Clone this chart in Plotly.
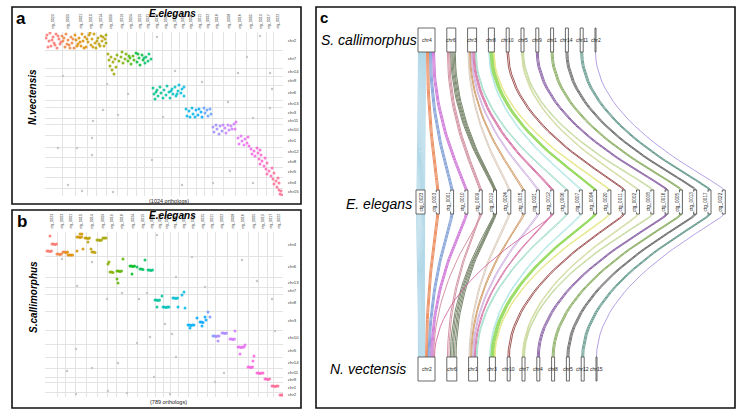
import math
from bisect import bisect_right
import plotly.graph_objects as go

W, H = 740, 416

# ---------------- panel a : E. elegans contigs vs N. vectensis chromosomes ----------------
a_ctg = ['ctg_0023', 'ctg_0003', 'ctg_0001', 'ctg_0010', 'ctg_0014', 'ctg_0009', 'ctg_0019', 'ctg_0024',
         'ctg_0015', 'ctg_0021', 'ctg_0012', 'ctg_0006', 'ctg_0007', 'ctg_0004', 'ctg_0020', 'ctg_0011',
         'ctg_0002', 'ctg_0018', 'ctg_0008', 'ctg_0016', 'ctg_0005', 'ctg_0013', 'ctg_0017', 'ctg_0022']
a_ctg_len = [17, 13, 12, 9, 10, 11, 10, 9, 8, 8, 10, 9, 8, 8, 9, 8, 8, 11, 12, 11, 11, 9, 7, 10]
a_chr = ['chr2', 'chr7', 'chr14', 'chr9', 'chr6', 'chr13', 'chr3', 'chr11', 'chr10', 'chr1', 'chr12',
         'chr8', 'chr5', 'chr4', 'chr15']
a_chr_len = [18, 18, 8, 9, 15, 7, 11, 6, 11, 12, 10, 10, 10, 11, 8]

a_pts = [
    # chr2 block
    (2, 3), (4, 9), (6, 14), (8, 5), (9, 11), (11, 2), (12, 16), (14, 7), (15, 12), (17, 4), (18, 9), (20, 15),
    (21, 2), (23, 8), (24, 13), (26, 5), (27, 11), (29, 16), (30, 3), (31, 8), (33, 12), (34, 6), (36, 14),
    (37, 2), (38, 9), (40, 5), (41, 15), (43, 10), (44, 3), (46, 13), (47, 7), (49, 2), (50, 11), (51, 16),
    (53, 6), (54, 12), (56, 4), (57, 9), (59, 14), (60, 7), (61, 3), (1, 6), (3, 15), (5, 1), (7, 8), (10, 13),
    (13, 4), (16, 10), (19, 6), (22, 12), (25, 16), (28, 7), (32, 14), (35, 10), (39, 16), (42, 7), (45, 1),
    (48, 15), (52, 9), (55, 14), (58, 5), (61, 11),
    # chr7 block
    (63, 22), (64, 28), (65, 34), (66, 25), (67, 38), (68, 30), (69, 42), (70, 27), (71, 35), (72, 23),
    (74, 29), (76, 25), (78, 31), (80, 27), (81, 22), (83, 29), (85, 26), (86, 32), (88, 24), (89, 28),
    (91, 21), (92, 30), (94, 26), (95, 33), (97, 23), (98, 28), (100, 31), (101, 25), (103, 29), (104, 22),
    (106, 27), (77, 20), (84, 24), (93, 22), (99, 26),
    # chr6 block
    (108, 56), (109, 62), (110, 67), (112, 58), (113, 64), (115, 55), (116, 61), (118, 66), (119, 58),
    (121, 63), (122, 54), (124, 60), (125, 66), (127, 57), (128, 62), (130, 55), (131, 64), (133, 59),
    (134, 53), (136, 61), (137, 57), (139, 64), (139, 55), (111, 60), (126, 59), (132, 62),
    # chr3 block
    (141, 77), (142, 84), (144, 79), (145, 85), (147, 76), (148, 82), (150, 85), (151, 78), (153, 83),
    (154, 77), (156, 80), (157, 85), (159, 76), (160, 81), (162, 78), (163, 84), (165, 77), (166, 82),
    # chr10 block
    (168, 95), (169, 100), (171, 93), (172, 97), (174, 102), (175, 94), (177, 99), (178, 93), (180, 96),
    (181, 101), (183, 93), (184, 98), (186, 94), (187, 97), (189, 92), (190, 97), (191, 90),
    # chr1 / chr12 / chr8 / chr5 / chr4 / chr15
    (193, 106), (194, 112), (196, 104), (197, 109), (199, 113), (200, 107), (202, 111), (203, 105), (204, 114),
    (206, 117), (207, 122), (209, 119), (210, 124), (212, 116), (213, 121), (215, 118), (216, 123),
    (214, 127), (215, 132), (217, 129), (219, 134), (220, 126), (222, 131),
    (221, 137), (222, 142), (224, 139), (226, 144), (227, 136), (229, 141),
    (228, 147), (229, 152), (231, 149), (232, 155), (233, 146), (234, 151),
    (234, 158), (235, 162), (236, 159), (237, 163),
]
a_grey = [(112, 5), (202, 25), (215, 4), (225, 41), (130, 39), (193, 41), (18, 44), (62, 52), (83, 62),
          (227, 57), (157, 50), (58, 78), (73, 83), (118, 85), (208, 86), (225, 76), (183, 70), (48, 89),
          (13, 116), (32, 116), (47, 106), (47, 123), (107, 128), (185, 139), (23, 153), (37, 159), (68, 160),
          (137, 153), (168, 151), (208, 151)]

# ---------------- panel b : E. elegans contigs vs S. callimorphus chromosomes ----------------
b_ctg = ['ctg_0023', 'ctg_0003', 'ctg_0001', 'ctg_0010', 'ctg_0014', 'ctg_0009', 'ctg_0019', 'ctg_0018',
         'ctg_0024', 'ctg_0015', 'ctg_0021', 'ctg_0012', 'ctg_0006', 'ctg_0007', 'ctg_0004', 'ctg_0020',
         'ctg_0025', 'ctg_0011', 'ctg_0002', 'ctg_0008', 'ctg_0016', 'ctg_0005', 'ctg_0013', 'ctg_0017',
         'ctg_0022']
b_ctg_len = [12, 8, 10, 11, 11, 10, 9, 11, 10, 10, 8, 8, 7, 8, 10, 9, 10, 8, 12, 10, 11, 10, 9, 6, 10]
b_chr = ['chr4', 'chr6', 'chr13', 'chr7', 'chr8', 'chr3', 'chr10', 'chr5', 'chr14', 'chr11', 'chr9', 'chr1', 'chr2']
b_chr_len = [24, 21, 10, 7, 17, 19, 14, 13, 11, 9, 5, 10, 5]

b_pts = [
    # chr4
    (2, 19), (3.5, 19), (5, 19.5), (6.5, 19), (7, 12), (8.5, 12), (10, 12.5), (11.5, 12), (5, 4),
    (12, 22), (13.5, 22), (15, 22.5), (16.5, 22), (18, 20), (19.5, 20), (21, 20.5), (22.5, 20),
    (23, 23), (24.5, 23), (26, 23), (27.5, 23), (32, 5), (33.5, 5), (35, 5.5), (36.5, 5), (35, 2), (37, 2),
    (40, 6), (41.5, 6), (43, 6.5), (44.5, 6), (43, 10), (47, 20), (48.5, 20), (50, 20.5),
    (52, 8), (53.5, 8), (55, 8.5), (56.5, 8), (58, 6), (59.5, 6), (61, 6), (38, 17), (32, 19), (46, 17),
    # chr6
    (63, 32), (64, 30), (65, 40), (66.5, 40), (68, 40.5), (72, 39), (73.5, 39), (75, 39.5), (76.5, 39),
    (72, 47), (73, 51), (78, 27), (85, 34), (86.5, 34), (88, 34.5), (89.5, 34), (87, 42), (92, 35),
    (95, 37), (96.5, 37), (98, 37.5), (100, 28), (103, 38), (104.5, 38), (106, 38.5), (107.5, 38),
    # chr8
    (110, 68), (111.5, 68), (113, 68.5), (114.5, 68), (112, 75), (118, 75), (119.5, 75), (121, 75.5),
    (122.5, 75), (124, 75), (117, 64), (128, 66), (129.5, 66), (131, 66.5), (132.5, 66), (133, 75),
    (137, 63), (140, 76), (139, 60),
    # chr3
    (143, 93), (144.5, 93), (146, 93.5), (147.5, 93), (149, 93), (145, 96), (152, 86), (155, 90),
    (156.5, 90), (158, 90.5), (157, 94), (160, 85), (163, 80), (165, 85), (161, 88),
    # chr10
    (168, 104), (169.5, 104), (171, 104.5), (172.5, 104), (174, 104), (173, 109), (177, 101), (178.5, 101),
    (180, 101.5), (181.5, 101), (185, 107), (186.5, 107), (188, 107.5), (189.5, 107), (190, 99),
    # chr5 / chr14 / chr11 / chr9 / chr1 / chr2
    (193, 115), (194.5, 115), (196, 115.5), (197.5, 115), (195, 122), (200, 113), (199, 115),
    (203, 135), (204.5, 135), (206, 135.5), (207.5, 135), (208, 129), (209, 124),
    (212, 141), (213.5, 141), (215, 141.5), (216.5, 141), (218, 141),
    (220, 147), (221.5, 147), (223, 147.5), (224.5, 147),
    (227, 154), (228.5, 154), (230, 154.5), (231.5, 154), (233, 154),
    (235, 163), (236.5, 163), (237.5, 163),
]
b_grey = [(17, 27), (47, 30), (32, 54), (77, 61), (102, 61), (62, 67), (94, 67), (147, 25), (197, 28),
          (212, 49), (160, 55), (131, 45), (227, 67), (112, 3), (120, 92), (127, 102), (105, 105), (92, 111),
          (31, 117), (73, 131), (131, 125), (179, 141), (109, 145), (22, 139), (47, 136), (170, 150),
          (230, 99), (63, 159), (82, 161), (125, 162), (31, 162)]

# ---------------- panel c : three-way synteny ----------------
top_chr = ['chr4', 'chr6', 'chr3', 'chr8', 'chr10', 'chr5', 'chr9', 'chr1', 'chr14', 'chr11', 'chr2']
top_size = [17, 9, 9, 6, 3, 3, 3, 3, 3, 3, 1]
mid_ctg = ['ctg_0023', 'ctg_0003', 'ctg_0001', 'ctg_0010', 'ctg_0009', 'ctg_0019', 'ctg_0024', 'ctg_0015',
           'ctg_0021', 'ctg_0012', 'ctg_0006', 'ctg_0007', 'ctg_0004', 'ctg_0020', 'ctg_0011', 'ctg_0002',
           'ctg_0008', 'ctg_0016', 'ctg_0005', 'ctg_0013', 'ctg_0017', 'ctg_0022']
mid_size = [9, 3, 3, 3, 3, 3, 3, 3, 3, 3, 3, 3, 3, 3, 3, 3, 3, 3, 3, 3, 3, 3]
mid_color = ['#9fcfe3', '#e8743b', '#6a8fd0', '#c65bd1', '#c97b8e', '#5b6b4a', '#d6c2b0', '#c98a4b',
             '#c7a3de', '#d05b97', '#8fd8c0', '#a0e3de', '#7ed33a', '#dfe36b', '#8b2d2d', '#c9d48e',
             '#b9d38a', '#7b4e9b', '#7aa34d', '#555555', '#4f8c7e', '#a58ce0']
bot_chr = ['chr2', 'chr6', 'chr1', 'chr3', 'chr10', 'chr7', 'chr4', 'chr8', 'chr5', 'chr12', 'chr15']
bot_size = [17, 10, 9, 6, 3, 3, 3, 3, 3, 3, 1]

link_ctg = ['ctg_0023', 'ctg_0003', 'ctg_0001', 'ctg_0010', 'ctg_0009', 'ctg_0009', 'ctg_0019', 'ctg_0024',
            'ctg_0015', 'ctg_0021', 'ctg_0012', 'ctg_0012', 'ctg_0006', 'ctg_0007', 'ctg_0004', 'ctg_0020',
            'ctg_0011', 'ctg_0002', 'ctg_0008', 'ctg_0016', 'ctg_0005', 'ctg_0013', 'ctg_0017', 'ctg_0022']
link_top = ['chr4', 'chr4', 'chr4', 'chr4', 'chr6', 'chr6', 'chr6', 'chr3', 'chr3', 'chr3', 'chr3', 'chr3',
            'chr3', 'chr8', 'chr8', 'chr8', 'chr10', 'chr5', 'chr5', 'chr9', 'chr1', 'chr14', 'chr11', 'chr2']
link_bot = ['chr2', 'chr2', 'chr2', 'chr2', 'chr6', 'chr2', 'chr6', 'chr1', 'chr1', 'chr1', 'chr1', 'chr2',
            'chr1', 'chr3', 'chr3', 'chr3', 'chr10', 'chr7', 'chr7', 'chr4', 'chr8', 'chr5', 'chr12', 'chr15']
link_n = [8, 3, 3, 3, 2, 1, 5, 2, 2, 2, 2, 1, 2, 2, 5, 2, 2, 2, 2, 3, 3, 3, 3, 1]


def hue_pal(n, c=100, l=65):
    # ggplot2 default hue palette (polar Luv)
    cols = []
    for i in range(n):
        h = math.radians(15 + 360 * i / n)
        u, v = c * math.cos(h), c * math.sin(h)
        Y = ((l + 16) / 116) ** 3
        up = u / (13 * l) + 0.1978398
        vp = v / (13 * l) + 0.4683363
        X = Y * 9 * up / (4 * vp)
        Z = Y * (12 - 3 * up - 20 * vp) / (4 * vp)
        lin = [3.240479 * X - 1.537150 * Y - 0.498535 * Z,
               -0.969256 * X + 1.875992 * Y + 0.041556 * Z,
               0.055648 * X - 0.204043 * Y + 1.057311 * Z]
        out = []
        for ch in lin:
            ch = 1.055 * ch ** (1 / 2.4) - 0.055 if ch > 0.0031308 else 12.92 * ch
            out.append(max(0, min(255, round(ch * 255))))
        cols.append('rgb(%d,%d,%d)' % tuple(out))
    return cols


def cum(lens):
    out = [0]
    for v in lens:
        out.append(out[-1] + v)
    return out


def dom_x(x0, x1):
    return [x0 / W, x1 / W]


def dom_y(y0, y1):
    return [1 - y1 / H, 1 - y0 / H]


fig = go.Figure()
annots = []
shapes = []
font = 'Liberation Sans'


def dotplot(n, pts, grey, ctg, ctg_len, chrs, chr_len, n_orth, y0, y1):
    xa = 'x' if n == 1 else 'x%d' % n
    ya = 'y' if n == 1 else 'y%d' % n
    xb, yb = cum(ctg_len), cum(chr_len)
    pal = hue_pal(len(ctg))
    fig.add_trace(go.Scatter(x=[p[0] for p in grey], y=[p[1] for p in grey], mode='markers',
                             marker=dict(size=2.5, color='#c8c8c8'), xaxis=xa, yaxis=ya, hoverinfo='skip'))
    cols = [pal[min(len(ctg) - 1, bisect_right(xb, p[0]) - 1)] for p in pts]
    fig.add_trace(go.Scatter(x=[p[0] for p in pts], y=[p[1] for p in pts], mode='markers',
                             marker=dict(size=3.0, color=cols, opacity=0.85), xaxis=xa, yaxis=ya))
    ax = dict(domain=dom_x(45, 283), range=[0, xb[-1]], tickvals=xb, showticklabels=False,
              showgrid=True, gridcolor='#e3e3e3', gridwidth=0.6, zeroline=False, ticks='',
              anchor=ya, fixedrange=True)
    ay = dict(domain=dom_y(y0, y1), range=[yb[-1], 0], tickvals=yb, showticklabels=False,
              showgrid=True, gridcolor='#e3e3e3', gridwidth=0.6, zeroline=False, ticks='',
              anchor=xa, fixedrange=True)
    key = '' if n == 1 else str(n)
    fig.update_layout(**{'xaxis' + key: ax, 'yaxis' + key: ay})
    for i, name in enumerate(ctg):
        annots.append(dict(x=(xb[i] + xb[i + 1]) / 2, y=1, xref=xa, yref=ya + ' domain', text=name,
                           textangle=-90, xanchor='center', yanchor='bottom', yshift=1, showarrow=False,
                           font=dict(size=3.6, color='#333', family=font)))
    for i, name in enumerate(chrs):
        annots.append(dict(x=1, y=(yb[i] + yb[i + 1]) / 2, xref=xa + ' domain', yref=ya, text=name,
                           xanchor='left', yanchor='middle', xshift=3, showarrow=False,
                           font=dict(size=4.2, color='#333', family=font)))
    annots.append(dict(x=0.52, y=0, xref=xa + ' domain', yref=ya + ' domain', text='(%d orthologs)' % n_orth,
                       xanchor='center', yanchor='top', showarrow=False,
                       font=dict(size=5.5, color='#222', family=font)))


dotplot(1, a_pts, a_grey, a_ctg, a_ctg_len, a_chr, a_chr_len, 1024, 32, 196)
dotplot(2, b_pts, b_grey, b_ctg, b_ctg_len, b_chr, b_chr_len, 789, 232, 397)


# panel c in pixel-like units
def row(sizes, x0, gap):
    spans = []
    x = x0
    for s in sizes:
        spans.append((x, x + s))
        x += s + gap
    return spans


top_span = row(top_size, 418, 11.8)
mid_span = row(mid_size, 416, 11.3)
bot_span = row(bot_size, 418, 11.8)
TOP = (28, 52)
MID = (190, 214)
BOT = (357, 381)

# one entry per drawn line, ordered by middle contig
lines = []
for k in range(len(link_ctg)):
    mi = mid_ctg.index(link_ctg[k])
    for _ in range(link_n[k]):
        lines.append((mi, top_chr.index(link_top[k]), bot_chr.index(link_bot[k])))
order = sorted(range(len(lines)), key=lambda j: (lines[j][0], lines[j][1], lines[j][2]))


def spread(key_idx, spans):
    pos = {}
    groups = {}
    for j in sorted(range(len(lines)), key=lambda j: (lines[j][0], lines[j][2] if key_idx == 2 else lines[j][1])):
        groups.setdefault(lines[j][key_idx], []).append(j)
    for g, js in groups.items():
        x0, x1 = spans[g]
        for r, j in enumerate(js):
            pos[j] = x0 + (r + 0.5) / len(js) * (x1 - x0)
    return pos


xt = spread(1, top_span)
xm = spread(0, mid_span)
xbt = spread(2, bot_span)


def bez(p0, p1, p2, p3, n=30):
    xs, ys = [], []
    for k in range(n + 1):
        t = k / n
        w = ((1 - t) ** 3, 3 * (1 - t) ** 2 * t, 3 * (1 - t) * t ** 2, t ** 3)
        xs.append(sum(wi * p[0] for wi, p in zip(w, (p0, p1, p2, p3))))
        ys.append(sum(wi * p[1] for wi, p in zip(w, (p0, p1, p2, p3))))
    return xs, ys


for mi in range(len(mid_ctg)):
    xs, ys = [], []
    for j in order:
        if lines[j][0] != mi:
            continue
        d1 = MID[0] - TOP[1]
        x1, y1 = bez((xt[j], TOP[1]), (xt[j], TOP[1] + 0.55 * d1), (xm[j], MID[0] - 0.05 * d1), (xm[j], MID[0]))
        d2 = BOT[0] - MID[1]
        x2, y2 = bez((xm[j], MID[1]), (xm[j], MID[1] + 0.05 * d2), (xbt[j], BOT[0] - 0.55 * d2), (xbt[j], BOT[0]))
        xs += x1 + x2 + [None]
        ys += y1 + y2 + [None]
    fig.add_trace(go.Scatter(x=xs, y=ys, mode='lines', line=dict(color=mid_color[mi], width=1.0),
                             opacity=0.8, xaxis='x3', yaxis='y3', hoverinfo='skip'))

fig.update_layout(
    xaxis3=dict(domain=dom_x(316, 735), range=[316, 735], visible=False, anchor='y3', fixedrange=True),
    yaxis3=dict(domain=dom_y(7, 408), range=[408, 7], visible=False, anchor='x3', fixedrange=True),
)

for spans, names, (y0, y1) in [(top_span, top_chr, TOP), (bot_span, bot_chr, BOT)]:
    for (x0, x1), nm in zip(spans, names):
        shapes.append(dict(type='rect', xref='x3', yref='y3', x0=x0, x1=x1, y0=y0, y1=y1,
                           line=dict(color='#444', width=0.8), fillcolor='white', layer='above'))
        annots.append(dict(x=(x0 + x1) / 2, y=(y0 + y1) / 2, xref='x3', yref='y3', text=nm, showarrow=False,
                           xanchor='center', yanchor='middle', font=dict(size=5, color='#222', family=font)))
for (x0, x1), nm in zip(mid_span, mid_ctg):
    shapes.append(dict(type='rect', xref='x3', yref='y3', x0=x0, x1=x1, y0=MID[0], y1=MID[1],
                       line=dict(color='#444', width=0.8), fillcolor='white', layer='above'))
    lx = (x0 + x1) / 2 if x1 - x0 > 5 else x0 - 2.6
    annots.append(dict(x=lx, y=(MID[0] + MID[1]) / 2, xref='x3', yref='y3', text=nm, textangle=-90,
                       xanchor='center', yanchor='middle', showarrow=False, bgcolor='white', borderpad=0,
                       font=dict(size=4.6, color='#222', family=font)))

for txt, x, y in [('S. callimorphus', 369, 40), ('E. elegans', 379, 204), ('N. vectensis', 368, 369)]:
    annots.append(dict(x=x, y=y, xref='x3', yref='y3', text='<i>%s</i>' % txt, showarrow=False,
                       xanchor='center', yanchor='middle', font=dict(size=14, color='black', family=font)))

# frames, panel letters, titles
for x0, y0, x1, y1 in [(12, 7, 301, 204), (12, 210, 301, 408), (316, 7, 735, 408)]:
    shapes.append(dict(type='rect', xref='paper', yref='paper', x0=x0 / W, x1=x1 / W, y0=1 - y1 / H,
                       y1=1 - y0 / H, line=dict(color='#111', width=1.6), fillcolor='rgba(0,0,0,0)'))
for txt, x, y, s in [('a', 21, 19, 17), ('b', 22, 221, 17), ('c', 324, 18, 15)]:
    annots.append(dict(x=x / W, y=1 - y / H, xref='paper', yref='paper', text='<b>%s</b>' % txt,
                       xanchor='center', yanchor='middle', showarrow=False,
                       font=dict(size=s, color='black', family=font)))
for y in [13, 215]:
    annots.append(dict(x=172 / W, y=1 - y / H, xref='paper', yref='paper', text='<b><i>E.elegans</i></b>',
                       xanchor='center', yanchor='middle', showarrow=False,
                       font=dict(size=10, color='black', family=font)))
for txt, y in [('N.vectensis', 97), ('S.callimorphus', 297)]:
    annots.append(dict(x=33 / W, y=1 - y / H, xref='paper', yref='paper', text='<b><i>%s</i></b>' % txt,
                       xanchor='center', yanchor='middle', textangle=-90, showarrow=False,
                       font=dict(size=10, color='black', family=font)))

fig.update_layout(width=W, height=H, margin=dict(l=0, r=0, t=0, b=0), showlegend=False,
                  paper_bgcolor='white', plot_bgcolor='white', annotations=annots, shapes=shapes)
fig.write_html("out.html", config={'displayModeBar': False},
               post_script="document.body.style.margin='0px';document.body.style.overflow='hidden';")
